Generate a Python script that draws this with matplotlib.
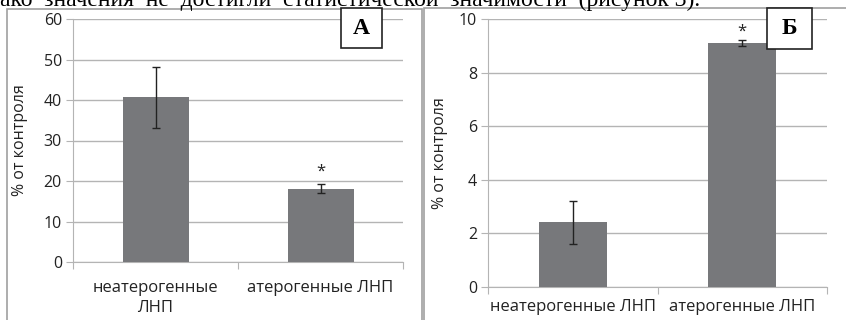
import numpy as np
import matplotlib.pyplot as plt
from matplotlib.patches import Rectangle

plt.rcParams['font.family'] = ['Open Sans', 'DejaVu Sans']

# panel A
cats_a = ['неатерогенные\nЛНП', 'атерогенные ЛНП']
vals_a = [40.7, 18.1]
errs_a = [7.5, 1.1]
# panel B
cats_b = ['неатерогенные ЛНП', 'атерогенные ЛНП']
vals_b = [2.4, 9.1]
errs_b = [0.8, 0.1]

bar_color = '#77787b'
grid_color = '#b4b4b4'
text_color = '#222222'

W, H = 846, 320
fig = plt.figure(figsize=(W / 100, H / 100), dpi=100)

# surrounding frames of the two panels
fig.patches.append(Rectangle((7 / W, -0.1), (421.5 - 7) / W, (H - 9) / H + 0.1,
                             transform=fig.transFigure, fill=False,
                             edgecolor='#a0a0a0', lw=1.2))
fig.patches.append(Rectangle((424 / W, -0.1), 0.6, (H - 7.5) / H + 0.1,
                             transform=fig.transFigure, fill=False,
                             edgecolor='#a0a0a0', lw=1.2))

# running text line above the figure (cut by the page edge)
fig.text(0, 1 - 6 / H,
         'ако  значения  не  достигли  статистической  значимости  (рисунок 3).',
         family='Liberation Serif', fontsize=17, va='baseline', ha='left',
         zorder=6)


def draw_panel(rect, cats, vals, errs, ymax, step, letter, box, star_off, pad):
    ax = fig.add_axes(rect)
    x = np.arange(len(cats))
    ax.bar(x, vals, width=0.4, color=bar_color, zorder=3)
    ax.errorbar(x, vals, yerr=errs, fmt='none', ecolor=text_color,
                elinewidth=1.0, capsize=3, capthick=1.0, zorder=4)
    ax.text(x[1], vals[1] + errs[1] + star_off, '*', ha='center', va='center',
            fontsize=12, color=text_color)
    ax.set_xlim(-0.5, len(cats) - 0.5)
    ax.set_ylim(0, ymax)
    ax.set_yticks(np.arange(0, ymax + step / 2, step))
    ax.yaxis.grid(True, color=grid_color, lw=1.0, zorder=0)
    ax.set_axisbelow(True)
    ax.set_xticks([-0.5, 0.5, 1.5])
    ax.set_xticklabels([])
    ax.set_xticks(x, minor=True)
    ax.set_xticklabels(cats, minor=True, fontsize=12, color=text_color,
                       linespacing=1.3)
    ax.tick_params(axis='x', which='minor', length=0, pad=pad)
    ax.tick_params(axis='x', which='major', length=5, color=grid_color,
                   direction='out')
    ax.tick_params(axis='y', length=5, color=grid_color, labelsize=11.5,
                   labelcolor=text_color, pad=3)
    for s in ['top', 'right']:
        ax.spines[s].set_visible(False)
    for s in ['left', 'bottom']:
        ax.spines[s].set_color(grid_color)
    ax.set_ylabel('% от контроля', fontsize=11.5, color=text_color)
    # letter box
    fig.patches.append(Rectangle((box[0] / W, 1 - box[3] / H),
                                 (box[2] - box[0]) / W, (box[3] - box[1]) / H,
                                 transform=fig.transFigure, facecolor='white',
                                 edgecolor=text_color, lw=1.2, zorder=5))
    fig.text((box[0] + box[2]) / 2 / W, 1 - (box[1] + box[3]) / 2 / H, letter,
             family='Liberation Serif', fontweight='bold', fontsize=17,
             ha='center', va='center', zorder=7)
    return ax


ax1 = draw_panel([73 / W, (H - 262) / H, 330 / W, 243 / H],
                 cats_a, vals_a, errs_a, 60, 10, 'А', (341, 8, 382, 48), 3.0, 13)
ax1.yaxis.set_label_coords(-0.136, 0.5)

ax2 = draw_panel([488 / W, (H - 286.7) / H, 339 / W, 267.7 / H],
                 cats_b, vals_b, errs_b, 10, 2, 'Б', (767, 8, 812, 49), 0.33, 9)
ax2.yaxis.set_label_coords(-0.118, 0.5)

fig.savefig('out.png', dpi=100)
